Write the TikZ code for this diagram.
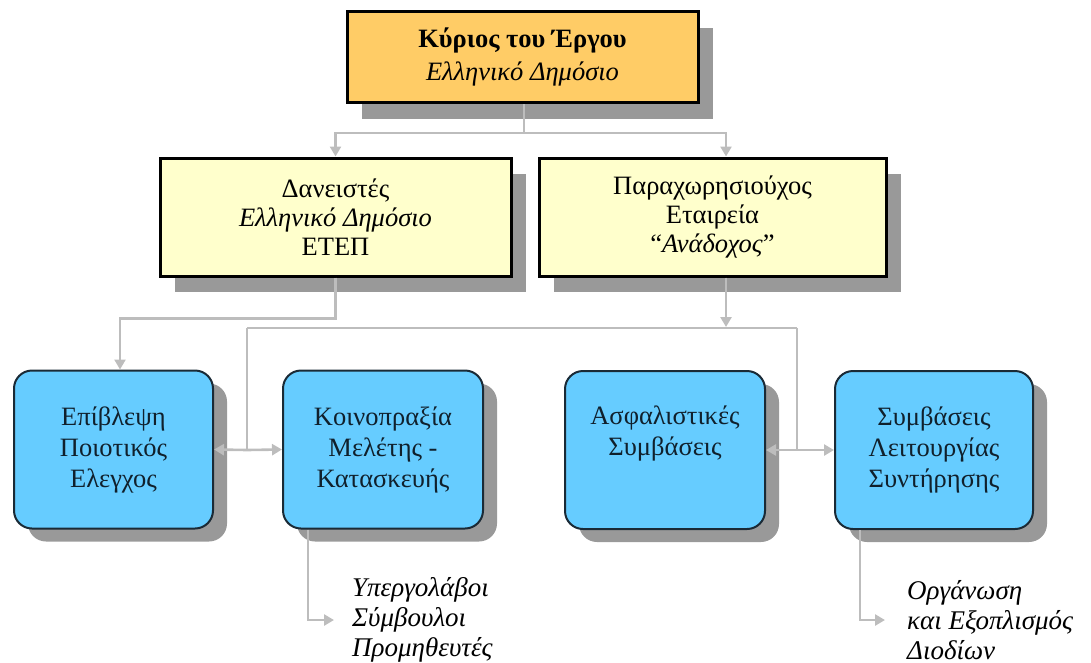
\documentclass[tikz,border=0pt]{standalone}
\usepackage{fontspec}
\setmainfont{Liberation Serif}
\usetikzlibrary{arrows.meta,shadows}
\definecolor{ownerfill}{HTML}{FFCC66}
\definecolor{partyfill}{HTML}{FFFFCC}
\definecolor{unitfill}{HTML}{66CCFF}
\definecolor{shade}{HTML}{999999}
\definecolor{wire}{HTML}{BDBDBD}
\definecolor{unitedge}{HTML}{1A2A36}
\definecolor{unittext}{HTML}{10202C}

\begin{document}
\begin{tikzpicture}[x=1pt,y=-1pt,
  boxtext/.style={font=\fontsize{26.5}{29}\selectfont},
  sqbox/.style={boxtext, draw=black, line width=3pt, align=center, inner sep=0pt,
    drop shadow={shadow xshift=15pt, shadow yshift=-16pt, fill=shade, opacity=1}},
  unitbox/.style={font=\fontsize{26.5}{31}\selectfont, draw=unitedge, line width=2pt, fill=unitfill, text=unittext,
    rounded corners=18pt, align=center, inner sep=0pt,
    minimum width=199pt, minimum height=158pt,
    drop shadow={shadow xshift=14pt, shadow yshift=-13pt, fill=shade, opacity=1}},
  listtext/.style={font=\fontsize{27}{30}\selectfont\itshape, align=left, anchor=west, inner sep=0pt},
  wireline/.style={draw=wire, line width=2.6pt},
  wirearrow/.style={wireline, -{Triangle[length=10pt,width=11pt]}}
]
\useasboundingbox (0,0) rectangle (1091,662);

% owner, lender and concessionaire
\node[sqbox, font=\fontsize{26.5}{33}\selectfont, fill=ownerfill, minimum width=351pt, minimum height=91pt] (owner) at (522.5,57)
  {\textbf{Κύριος του Έργου}\\ \textit{Ελληνικό Δημόσιο}};
\node[sqbox, fill=partyfill, minimum width=351pt, minimum height=118pt] (lender) at (335.5,217)
  {Δανειστές\\ \textit{Ελληνικό Δημόσιο}\\ ΕΤΕΠ};
\node[sqbox, fill=partyfill, minimum width=347pt, minimum height=118pt] (conc) at (712.5,217)
  {Παραχωρησιούχος\\ Εταιρεία\\ “\textit{Ανάδοχος}”};

% contracted parties
\node[unitbox] (qc) at (113.5,449.5) {Επίβλεψη\\ Ποιοτικός\\ Ελεγχος};
\node[unitbox, minimum width=200pt] (jv) at (383,449.5) {Κοινοπραξία\\ Μελέτης -\\ Κατασκευής};
\node[unitbox, minimum width=200pt] (ins) at (665,450) {Ασφαλιστικές\\ Συμβάσεις\\[8pt]};
\node[unitbox, minimum width=198pt] (om) at (934,450) {Συμβάσεις\\ Λειτουργίας\\ Συντήρησης};

% sub-items
\node[listtext] (subs) at (352,620) {Υπεργολάβοι\\ Σύμβουλοι\\ Προμηθευτές};
\node[listtext] (toll) at (907,620) {Οργάνωση\\ και Εξοπλισμός\\ Διοδίων};

% junction points
\coordinate (hub) at (726,328);
\coordinate (jl) at (247,328);
\coordinate (jr) at (797,328);
\coordinate (ml) at (247,450);
\coordinate (mr) at (797,450);

% connectors
\draw[wirearrow] ([xshift=1.5pt]owner.south) -- ++(0,29) -| (lender.north);
\draw[wirearrow] ([xshift=1.5pt]owner.south) -- ++(0,29) -| ([xshift=13.5pt]conc.north);
\draw[wirearrow] (lender.south) -- ++(0,41) -| ([xshift=6.5pt]qc.north);
\draw[wirearrow] ([xshift=13.5pt]conc.south) -- ([yshift=1pt]hub);
\draw[wireline] (jl) -- (jr);
\draw[wireline] (jl) -- (ml);
\draw[wireline] (jr) -- (mr);
\draw[wirearrow] (ml) -- (qc.east);
\draw[wirearrow] (ml) -- (jv.west);
\draw[wirearrow] (mr) -- (ins.east);
\draw[wirearrow] (mr) -- (om.west);
\draw[wirearrow] ([xshift=-75pt]jv.south) |- ([xshift=-18pt]subs.west);
\draw[wirearrow] ([xshift=-74pt]om.south) |- ([xshift=-22pt]toll.west);
\end{tikzpicture}
\end{document}
